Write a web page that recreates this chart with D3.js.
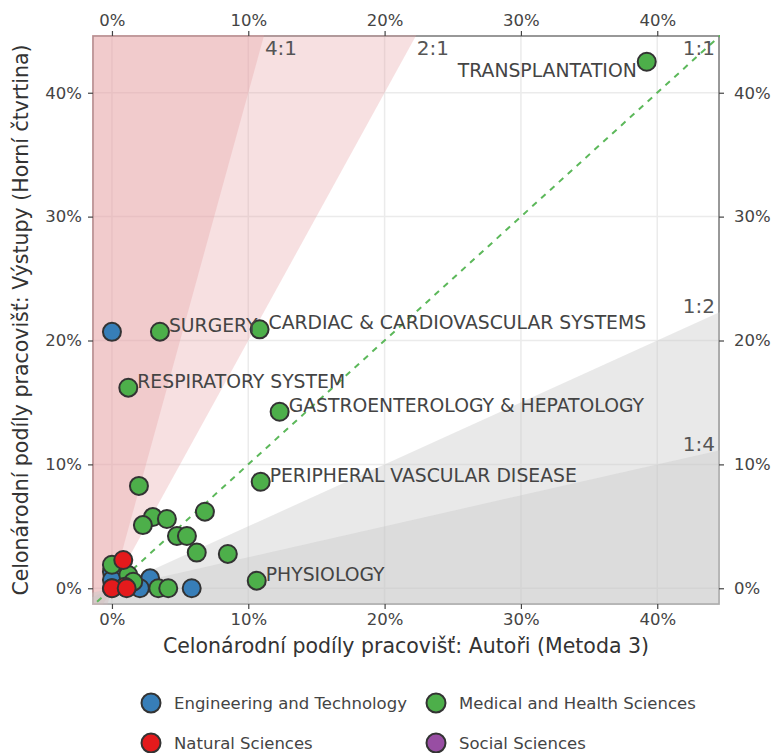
<!DOCTYPE html>
<html>
<head>
<meta charset="utf-8">
<script src="https://cdn.jsdelivr.net/npm/d3@7"></script>
<style>
  body { margin: 0; background: #fff; }
  svg text { font-family: "DejaVu Sans", Verdana, sans-serif; }
</style>
</head>
<body>
<div id="chart"></div>
<script>
// data (shares in %) ---------------------------------------------------------
const categories = ["Engineering and Technology", "Medical and Health Sciences", "Natural Sciences", "Social Sciences"];
const catColors = ["#377eb8", "#4daf4a", "#e41a1c", "#984ea3"];

const engX = [0.0, 0.0, 0.0, 2.8, 2.05, 5.85, 0.0];
const engY = [20.7, 1.34, 0.67, 0.8, 0.0, 0.0, 0.0];

const medX = [39.23, 3.52, 10.83, 1.2, 12.3, 10.91, 10.62, 1.98, 3.0, 4.03, 2.27, 4.77, 5.5, 6.22, 6.82, 8.5, 3.4, 4.13, 1.2, 1.56, 0.0];
const medY = [42.5, 20.71, 20.9, 16.19, 14.25, 8.6, 0.61, 8.26, 5.75, 5.59, 5.1, 4.22, 4.22, 2.88, 6.18, 2.77, 0.0, 0.0, 1.07, 0.53, 1.9];
const medLabels = ["TRANSPLANTATION", "SURGERY", "CARDIAC & CARDIOVASCULAR SYSTEMS", "RESPIRATORY SYSTEM",
  "GASTROENTEROLOGY & HEPATOLOGY", "PERIPHERAL VASCULAR DISEASE", "PHYSIOLOGY"];
const labelSide = ["left", "right", "right", "right", "right", "right", "right"];

const natX = [0.83, 0.95, 0.0, 1.08];
const natY = [2.28, 0.13, 0.0, 0.0];

const socX = [];
const socY = [];

const tickVals = [0, 10, 20, 30, 40];
const ratioUp = [4, 2];      // y = k*x, area above
const ratioDown = [2, 4];    // y = x/k, area below

// layout ---------------------------------------------------------------------
const W = 776, H = 753;
const L = 93, R = 719, T = 36, B = 604;

const svg = d3.select("#chart").append("svg")
  .attr("width", W).attr("height", H);

const x = d3.scaleLinear().domain([-1.39, 44.53]).range([L, R]);
const y = d3.scaleLinear().domain([-1.27, 44.58]).range([B, T]);

// grid
const grid = svg.append("g");
grid.selectAll("line.vx").data(tickVals).join("line")
  .attr("x1", d => x(d)).attr("x2", d => x(d)).attr("y1", T).attr("y2", B)
  .attr("stroke", "#ebebeb").attr("stroke-width", 1.5);
grid.selectAll("line.hy").data(tickVals).join("line")
  .attr("y1", d => y(d)).attr("y2", d => y(d)).attr("x1", L).attr("x2", R)
  .attr("stroke", "#ebebeb").attr("stroke-width", 1.5);

// panel border
svg.append("rect")
  .attr("x", L).attr("y", T).attr("width", R - L).attr("height", B - T)
  .attr("fill", "none").attr("stroke", "#777").attr("stroke-width", 1.5);

svg.append("clipPath").attr("id", "clip")
  .append("rect").attr("x", L - 1).attr("y", T - 1).attr("width", R - L + 2).attr("height", B - T + 2);

const area = svg.append("g").attr("clip-path", "url(#clip)");
const poly = pts => pts.map(p => [x(p[0]), y(p[1])].join(",")).join(" ");

area.selectAll("polygon.up").data(ratioUp).join("polygon")
  .attr("points", k => poly([[-100, -100 * k], [100, 100 * k], [-100, 100 * k]]))
  .attr("fill", "rgb(230,160,163)").attr("fill-opacity", 0.32);

area.selectAll("polygon.down").data(ratioDown).join("polygon")
  .attr("points", k => poly([[-100, -100 / k], [100, 100 / k], [100, -100 / k]]))
  .attr("fill", "rgb(200,200,200)").attr("fill-opacity", 0.4);

// 1:1 line
area.append("line")
  .attr("x1", x(-5)).attr("y1", y(-5)).attr("x2", x(60)).attr("y2", y(60))
  .attr("stroke", "#5cb85a").attr("stroke-width", 2).attr("stroke-dasharray", "6,6");

// ratio labels
const ratioLab = svg.append("g").attr("font-size", 20).attr("fill", "#555");
const xTop = x.domain()[1], yTop = y.domain()[1];
ratioUp.forEach(k => {
  ratioLab.append("text").attr("x", x(yTop / k) + 1).attr("y", T + 19).text(k + ":1");
});
ratioLab.append("text").attr("x", R - 4).attr("y", T + 19).attr("text-anchor", "end").text("1:1");
ratioDown.forEach(k => {
  ratioLab.append("text").attr("x", R - 4).attr("y", y(xTop / k) + 1)
    .attr("text-anchor", "end").text("1:" + k);
});

// axes
const fmt = d => d + "%";
function styleAxis(g) {
  g.select(".domain").remove();
  g.selectAll(".tick line").attr("stroke", "#444").attr("stroke-width", 1.2);
  g.selectAll(".tick text").attr("fill", "#444").attr("font-size", 16.5)
    .attr("font-family", "DejaVu Sans");
}
svg.append("g").attr("transform", `translate(0,${B})`)
  .call(d3.axisBottom(x).tickValues(tickVals).tickFormat(fmt).tickSize(5).tickPadding(4)).call(styleAxis);
svg.append("g").attr("transform", `translate(0,${T})`)
  .call(d3.axisTop(x).tickValues(tickVals).tickFormat(fmt).tickSize(5).tickPadding(5)).call(styleAxis);
svg.append("g").attr("transform", `translate(${L},0)`)
  .call(d3.axisLeft(y).tickValues(tickVals).tickFormat(fmt).tickSize(5).tickPadding(6)).call(styleAxis);
svg.append("g").attr("transform", `translate(${R},0)`)
  .call(d3.axisRight(y).tickValues(tickVals).tickFormat(fmt).tickSize(5).tickPadding(10)).call(styleAxis);

// points
const series = [
  { xs: engX, ys: engY, c: catColors[0] },
  { xs: medX, ys: medY, c: catColors[1] },
  { xs: natX, ys: natY, c: catColors[2] },
  { xs: socX, ys: socY, c: catColors[3] }
];
const pts = svg.append("g");
series.forEach(s => {
  pts.selectAll(null).data(d3.zip(s.xs, s.ys)).join("circle")
    .attr("cx", d => x(d[0])).attr("cy", d => y(d[1])).attr("r", 9)
    .attr("fill", s.c).attr("stroke", "#333").attr("stroke-width", 2);
});

// point labels
svg.append("g").attr("font-size", 18.8).attr("fill", "#444")
  .selectAll("text").data(medLabels).join("text")
  .attr("x", (d, i) => labelSide[i] === "left" ? x(medX[i]) - 10 : x(medX[i]) + 9)
  .attr("y", (d, i) => labelSide[i] === "left" ? y(medY[i]) + 15 : y(medY[i]))
  .attr("text-anchor", (d, i) => labelSide[i] === "left" ? "end" : "start")
  .text(d => d);

// axis titles
svg.append("text").attr("x", (L + R) / 2).attr("y", 653).attr("text-anchor", "middle")
  .attr("font-size", 20.5).attr("fill", "#333")
  .text("Celonárodní podíly pracovišť: Autoři (Metoda 3)");
svg.append("text").attr("transform", `translate(28,${(T + B) / 2}) rotate(-90)`)
  .attr("text-anchor", "middle").attr("font-size", 20.5).attr("fill", "#333")
  .text("Celonárodní podíly pracovišť: Výstupy (Horní čtvrtina)");

// legend
const legPos = [[151, 703], [436, 703], [151, 743], [436, 743]];
const leg = svg.append("g");
categories.forEach((c, i) => {
  leg.append("circle").attr("cx", legPos[i][0]).attr("cy", legPos[i][1]).attr("r", 9.5)
    .attr("fill", catColors[i]).attr("stroke", "#333").attr("stroke-width", 2);
  leg.append("text").attr("x", legPos[i][0] + 23).attr("y", legPos[i][1] + 6)
    .attr("font-size", 16.5).attr("fill", "#444").text(c);
});
</script>
</body>
</html>
